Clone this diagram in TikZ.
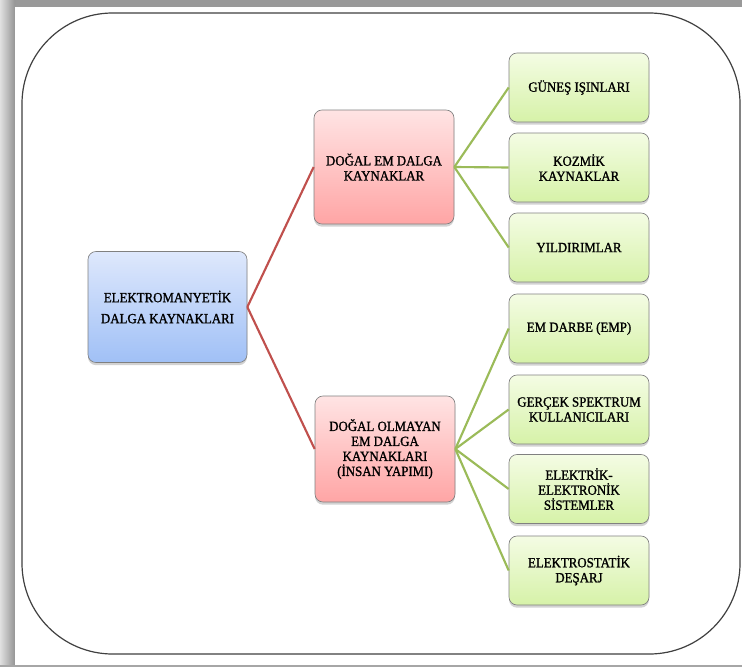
\documentclass[tikz,border=0pt]{standalone}
\usepackage{fontspec}
\setmainfont{Liberation Serif}[FakeStretch=0.92,FakeBold=1.2]
\usetikzlibrary{shadows}
\definecolor{redline}{RGB}{192,80,77}
\definecolor{greenline}{RGB}{155,187,89}
\definecolor{bluetop}{RGB}{222,232,252}
\definecolor{bluebot}{RGB}{160,192,246}
\definecolor{redtop}{RGB}{255,228,228}
\definecolor{redbot}{RGB}{255,165,165}
\definecolor{greentop}{RGB}{244,252,228}
\definecolor{greenbot}{RGB}{214,242,168}
\tikzset{
  basebox/.style={draw=black!50, line width=0.5pt, rounded corners=6pt, align=center,
    inner sep=2pt, font=\fontsize{10.5}{11.25}\selectfont,
    drop shadow={shadow xshift=0pt, shadow yshift=-2pt, opacity=0.35}},
  rootbox/.style={basebox, top color=bluetop, bottom color=bluebot,
    minimum width=119.25pt, minimum height=83.25pt, font=\fontsize{10.5}{15.75}\selectfont},
  midbox/.style={basebox, top color=redtop, bottom color=redbot, minimum width=105pt},
  leafbox/.style={basebox, top color=greentop, bottom color=greenbot,
    minimum width=105pt, minimum height=51.75pt},
  redlink/.style={draw=redline, line width=1.6pt},
  greenlink/.style={draw=greenline, line width=1.6pt}
}
\begin{document}
\begin{tikzpicture}[x=0.75pt,y=-0.75pt]
\useasboundingbox (0,0) rectangle (742,667);
% page frame
\fill[black!40] (0,0) rectangle (742,7);
\fill[left color=black!12,right color=black!42] (0,0) rectangle (15,667);
\fill[black!35] (0,665) rectangle (742,667);
\fill[white] (15,7) rectangle (742,665);
% outer rounded rectangle
\draw[black!75, line width=0.9pt, rounded corners=68pt] (22,13) rectangle (740,654);

% nodes
\node[rootbox] (root) at (167.5,307) {ELEKTROMANYETİK\\DALGA KAYNAKLARI};
\node[midbox, minimum height=85.5pt] (dogal) at (384,167) {DOĞAL EM DALGA\\KAYNAKLAR};
\node[midbox, minimum height=79.5pt] (olmayan) at (385,449) {DOĞAL OLMAYAN\\EM DALGA\\KAYNAKLARI\\(İNSAN YAPIMI)};

\node[leafbox] (g1) at (579,87.5) {GÜNEŞ IŞINLARI};
\node[leafbox] (g2) at (579,167.5) {KOZMİK\\KAYNAKLAR};
\node[leafbox] (g3) at (579,247.5) {YILDIRIMLAR};
\node[leafbox] (g4) at (579,328.5) {EM DARBE (EMP)};
\node[leafbox] (g5) at (579,409.5) {GERÇEK SPEKTRUM\\KULLANICILARI};
\node[leafbox] (g6) at (579,489) {ELEKTRİK-\\ELEKTRONİK\\SİSTEMLER};
\node[leafbox] (g7) at (579,570.5) {ELEKTROSTATİK\\DEŞARJ};

% connectors
\draw[redlink] (root.east) -- (dogal.west);
\draw[redlink] (root.east) -- (olmayan.west);
\foreach \g in {g1,g2,g3} \draw[greenlink] (dogal.east) -- (\g.west);
\foreach \g in {g4,g5,g6,g7} \draw[greenlink] (olmayan.east) -- (\g.west);
\end{tikzpicture}
\end{document}
